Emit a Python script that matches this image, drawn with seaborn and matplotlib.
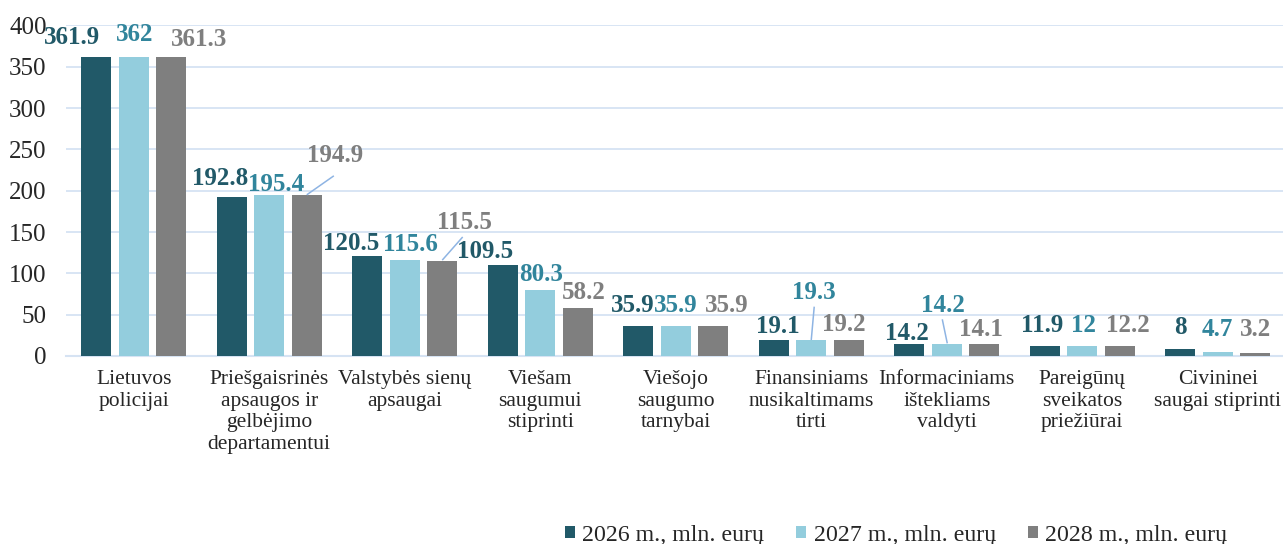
import matplotlib
matplotlib.use("Agg")
import matplotlib.pyplot as plt
import seaborn as sns
import pandas as pd
from matplotlib.patches import Patch

categories = [
    "Lietuvos\npolicijai",
    "Priešgaisrinės\napsaugos ir\ngelbėjimo\ndepartamentui",
    "Valstybės sienų\napsaugai",
    "Viešam\nsaugumui\nstiprinti",
    "Viešojo\nsaugumo\ntarnybai",
    "Finansiniams\nnusikaltimams\ntirti",
    "Informaciniams\ništekliams\nvaldyti",
    "Pareigūnų\nsveikatos\npriežiūrai",
    "Civininei\nsaugai stiprinti",
]
series_names = ["2026 m., mln. eurų", "2027 m., mln. eurų", "2028 m., mln. eurų"]
values_2026 = [361.9, 192.8, 120.5, 109.5, 35.9, 19.1, 14.2, 11.9, 8]
values_2027 = [362, 195.4, 115.6, 80.3, 35.9, 19.3, 14.2, 12, 4.7]
values_2028 = [361.3, 194.9, 115.5, 58.2, 35.9, 19.2, 14.1, 12.2, 3.2]
label_texts_2026 = ["361.9", "192.8", "120.5", "109.5", "35.9", "19.1", "14.2", "11.9", "8"]
label_texts_2027 = ["362", "195.4", "115.6", "80.3", "35.9", "19.3", "14.2", "12", "4.7"]
label_texts_2028 = ["361.3", "194.9", "115.5", "58.2", "35.9", "19.2", "14.1", "12.2", "3.2"]
yticks = [0, 50, 100, 150, 200, 250, 300, 350, 400]

# --- styling / layout (not data) ---
bar_colors = ["#215968", "#93CDDD", "#7F7F7F"]
label_colors = ["#215968", "#31859C", "#7F7F7F"]
grid_color = "#D6E3F3"
leader_color = "#8EB4E3"
# manual label placement (dx in category units, y in data units) as in reference
label_dx = [
    [-0.177, -0.089, -0.122, -0.133, -0.044, 0.027, -0.015, -0.022, 0.0],
    [0.007, 0.048, 0.044, 0.004, 0.0, 0.022, -0.030, 0.011, 0.0],
    [0.203, 0.207, 0.166, 0.044, 0.098, -0.037, -0.022, 0.059, 0.0],
]
label_y = [
    [388.4, 217.8, 139.4, 129.5, 64.7, 38.7, 30.6, 40.5, 37],
    [392, 210.5, 137.9, 102.2, 64.7, 79.8, 64.5, 40.5, 35],
    [386, 245.6, 164.5, 79.9, 64.7, 41.5, 35.5, 40.5, 35],
]
leaders = [  # (category, series, dx0, y0, dx1, y1)
    (1, 2, 0.0, 195, 0.20, 218),
    (2, 2, 0.0, 116, 0.151, 144),
    (5, 1, 0.022, 59.7, 0.0, 19.4),
    (6, 1, -0.033, 44.4, 0.004, 15.3),
]

sns.set_theme(style="white")
plt.rcParams["font.family"] = ["Liberation Serif", "DejaVu Serif"]

df = pd.DataFrame({
    "cat": categories * 3,
    "series": sum([[s] * len(categories) for s in series_names], []),
    "value": values_2026 + values_2027 + values_2028,
})

W, H = 1283, 544
fig = plt.figure(figsize=(W / 100, H / 100), dpi=100)
cat_w = 135.5
ax = fig.add_axes([66 / W, (H - 356) / H, 9 * cat_w / W, 330.6 / H])

total_w = 0.83
sns.barplot(data=df, x="cat", y="value", hue="series", order=categories,
            hue_order=series_names, palette=bar_colors, saturation=1,
            width=total_w, gap=0.205, linewidth=0, edgecolor="none", ax=ax,
            zorder=3)

ax.set_xlim(-0.5, len(categories) - 0.5)
ax.set_ylim(0, 400)
ax.set_yticks(yticks)
ax.set_yticklabels([str(t) for t in yticks], fontsize=18)
ax.set_xlabel("")
ax.set_ylabel("")
ax.tick_params(axis="y", length=0, pad=14)
ax.tick_params(axis="x", length=0, pad=10, labelsize=15.5)
ax.yaxis.grid(True, color=grid_color, linewidth=1.3, zorder=0)
ax.set_axisbelow(True)
for s in ["left", "right", "top"]:
    ax.spines[s].set_visible(False)
ax.spines["bottom"].set_color(grid_color)
ax.spines["bottom"].set_linewidth(1.5)

slot = total_w / 3
all_txt = [label_texts_2026, label_texts_2027, label_texts_2028]
for j in range(3):
    for i in range(len(categories)):
        x = i + (j - 1) * slot
        ax.text(x + label_dx[j][i], label_y[j][i], all_txt[j][i], ha="center",
                va="center_baseline", fontsize=18, fontweight="bold",
                color=label_colors[j], zorder=5, clip_on=False)

for (i, j, dx0, y0, dx1, y1) in leaders:
    x = i + (j - 1) * slot
    ax.plot([x + dx0, x + dx1], [y0, y1], color=leader_color, linewidth=1.1,
            zorder=4, solid_capstyle="butt")

leg = ax.get_legend()
if leg is not None:
    leg.remove()
handles = [Patch(facecolor=c, edgecolor="none") for c in bar_colors]
fig.legend(handles, series_names, loc="center left",
           bbox_to_anchor=(565 / W, (H - 535) / H), ncol=3, frameon=False,
           fontsize=17.2, handlelength=0.42, handleheight=0.42,
           handletextpad=0.3, columnspacing=1.35, borderpad=0, borderaxespad=0)

fig.savefig("out.png", dpi=100)
